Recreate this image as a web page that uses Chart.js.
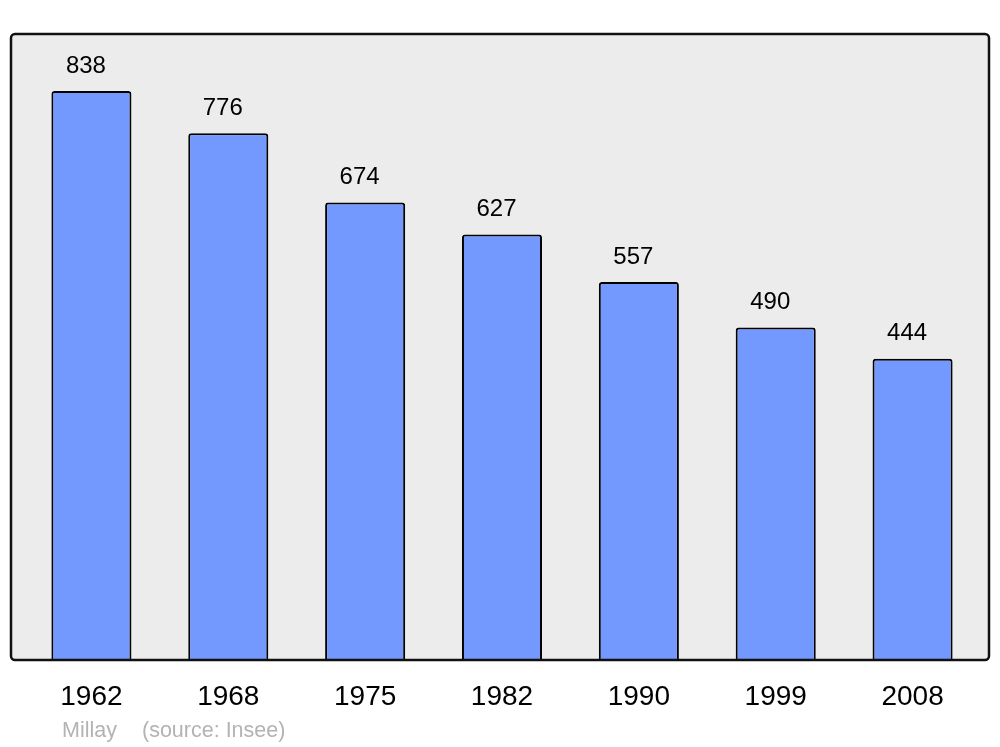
<!DOCTYPE html>
<html>
<head>
<meta charset="utf-8">
<script src="https://cdn.jsdelivr.net/npm/chart.js@4/dist/chart.umd.min.js"></script>
<style>
html,body{margin:0;padding:0;background:#fff;}
#wrap{width:1000px;height:747px;}
</style>
</head>
<body>
<div id="wrap"><canvas id="c" width="1000" height="747"></canvas></div>
<script>
const years = ["1962","1968","1975","1982","1990","1999","2008"];
const population = [838,776,674,627,557,490,444];
const captionName = "Millay";
const captionSource = "(source: Insee)";

const framePlugin = {
  id: 'frame',
  beforeDraw(chart) {
    const ctx = chart.ctx;
    ctx.save();
    ctx.beginPath();
    ctx.roundRect(11, 34, 978, 626, 4);
    ctx.fillStyle = '#ececec';
    ctx.fill();
    ctx.restore();
  },
  afterDatasetsDraw(chart) {
    const ctx = chart.ctx;
    ctx.save();
    ctx.beginPath();
    ctx.roundRect(11, 34, 978, 626, 4);
    ctx.lineWidth = 2.5;
    ctx.strokeStyle = '#111';
    ctx.stroke();
    const meta = chart.getDatasetMeta(0);
    ctx.fillStyle = '#000';
    ctx.font = '24px "Liberation Sans", Arial, sans-serif';
    ctx.textAlign = 'center';
    ctx.textBaseline = 'middle';
    meta.data.forEach((bar, i) => {
      ctx.fillText(String(population[i]), bar.x - 5.5, bar.y - 25);
    });
    ctx.fillStyle = '#b3b3b3';
    ctx.font = '21.5px "Liberation Sans", Arial, sans-serif';
    ctx.textAlign = 'left';
    ctx.fillText(captionName, 62, 731);
    ctx.fillText(captionSource, 142, 731);
    ctx.restore();
  }
};

new Chart(document.getElementById('c'), {
  type: 'bar',
  data: {
    labels: years,
    datasets: [{
      data: population,
      backgroundColor: '#7399ff',
      borderColor: '#000',
      borderWidth: 2,
      borderRadius: {topLeft: 3, topRight: 3, bottomLeft: 0, bottomRight: 0},
      borderSkipped: 'bottom',
      categoryPercentage: 1,
      barPercentage: 0.585
    }]
  },
  options: {
    responsive: false,
    animation: false,
    devicePixelRatio: 1,
    layout: { padding: { left: 23, right: 19, top: 34, bottom: 13 } },
    plugins: { legend: { display: false }, tooltip: { enabled: false } },
    scales: {
      x: {
        grid: { display: false, drawTicks: false },
        border: { display: false },
        ticks: { color: '#000', font: { size: 28, family: '"Liberation Sans", Arial, sans-serif' }, padding: 20, maxRotation: 0 }
      },
      y: {
        display: false,
        min: 0,
        max: 922
      }
    }
  },
  plugins: [framePlugin]
});
</script>
</body>
</html>
